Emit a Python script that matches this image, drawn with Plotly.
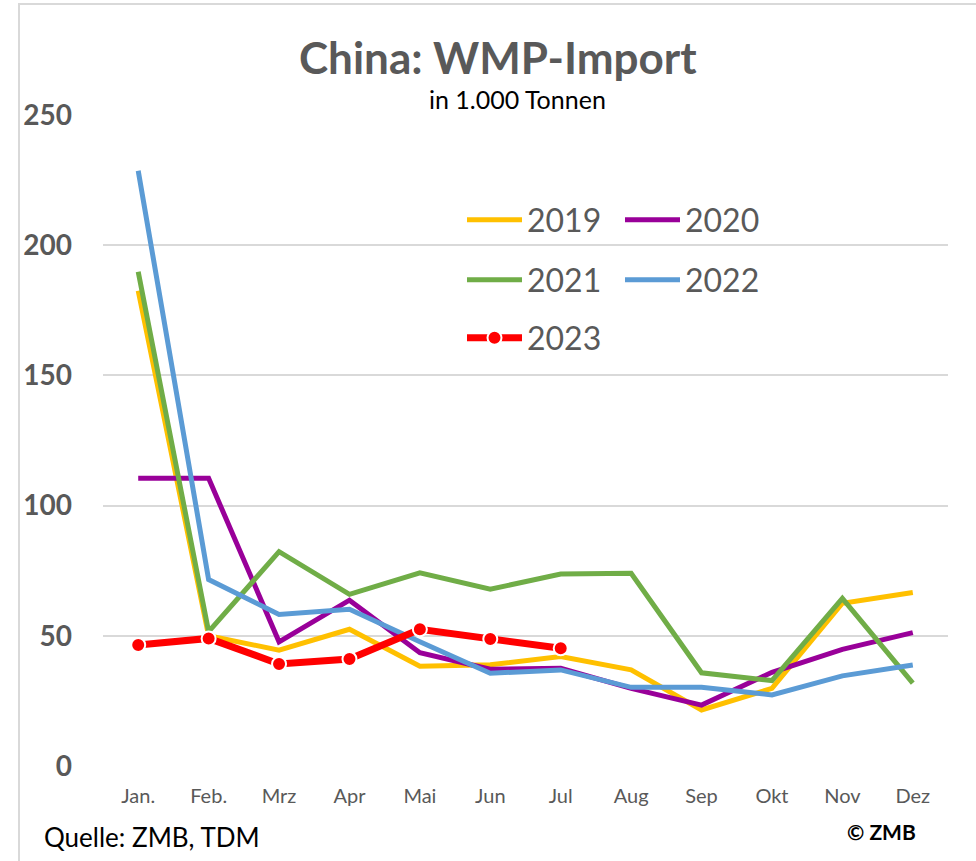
import plotly.graph_objects as go

# Monthly WMP imports of China, in 1,000 tonnes
months = ["Jan.", "Feb.", "Mrz", "Apr", "Mai", "Jun", "Jul", "Aug", "Sep", "Okt", "Nov", "Dez"]
imp_2019 = [182.5, 50.0, 44.5, 52.5, 38.3, 38.9, 42.0, 36.9, 21.5, 29.8, 62.5, 66.6]
imp_2020 = [110.5, 110.5, 47.7, 63.7, 43.5, 37.2, 37.5, 29.8, 23.4, 36.0, 44.8, 51.2]
imp_2021 = [189.8, 51.6, 82.3, 65.9, 74.2, 67.9, 73.7, 74.0, 35.8, 32.8, 64.4, 31.8]
imp_2022 = [228.6, 71.6, 58.2, 60.2, 47.7, 35.6, 36.9, 30.2, 30.2, 27.3, 34.6, 38.8]
imp_2023 = [46.5, 49.0, 39.2, 41.1, 52.5, 48.8, 45.2]

W, H = 976, 861
L, R, T, B = 103, 28, 115, 95
PW, PH = W - L - R, H - T - B


def px(x):
    return (x - L) / PW


def py(y):
    return (H - B - y) / PH


GREY = "#595959"
FONT = "Lato"

fig = go.Figure()
series = [
    ("2019", imp_2019, "#FFC000", "legend"),
    ("2020", imp_2020, "#990099", "legend"),
    ("2021", imp_2021, "#70AD47", "legend2"),
    ("2022", imp_2022, "#5B9BD5", "legend2"),
]
for name, vals, col, leg in series:
    fig.add_trace(go.Scatter(
        x=months[:len(vals)], y=vals, name=name, mode="lines",
        line=dict(color=col, width=5), legend=leg,
    ))
fig.add_trace(go.Scatter(
    x=months[:len(imp_2023)], y=imp_2023, name="2023", mode="lines+markers",
    line=dict(color="#FF0000", width=7),
    marker=dict(color="#FF0000", size=14, line=dict(color="white", width=2)),
    legend="legend3",
))

leg_common = dict(
    orientation="h", xanchor="left", yanchor="middle", bgcolor="rgba(0,0,0,0)",
    font=dict(family=FONT, size=32, color=GREY), itemwidth=55,
    entrywidth=88, entrywidthmode="pixels", tracegroupgap=0,
)

fig.update_layout(
    width=W, height=H,
    margin=dict(l=L, r=R, t=T, b=B),
    paper_bgcolor="white", plot_bgcolor="white",
    showlegend=True,
    legend=dict(x=px(462), y=py(220), **leg_common),
    legend2=dict(x=px(462), y=py(280), **leg_common),
    legend3=dict(x=px(462), y=py(338), **leg_common),
    xaxis=dict(
        type="category", range=[-0.5, 11.5], showgrid=False, zeroline=False,
        showline=False, ticks="", ticklabelstandoff=16,
        tickfont=dict(family=FONT, size=20, color=GREY),
    ),
    yaxis=dict(
        range=[0, 250], tickvals=[0, 50, 100, 150, 200, 250],
        showgrid=True, gridcolor="#D9D9D9", gridwidth=2, zeroline=False,
        showline=False, ticks="", ticklabelstandoff=30,
        tickfont=dict(family=FONT, size=28, color=GREY, weight="bold"),
    ),
    shapes=[dict(
        type="rect", xref="paper", yref="paper",
        x0=px(19), x1=px(W + 20), y0=py(H + 20), y1=py(4),
        line=dict(color="#D9D9D9", width=2), fillcolor="rgba(0,0,0,0)", layer="below",
    )],
    annotations=[
        dict(text="<b>China: WMP-Import</b>", x=px(498), y=py(57), xref="paper", yref="paper",
             showarrow=False, xanchor="center", yanchor="middle",
             font=dict(family=FONT, size=44, color=GREY)),
        dict(text="in 1.000 Tonnen", x=px(517), y=py(99), xref="paper", yref="paper",
             showarrow=False, xanchor="center", yanchor="middle",
             font=dict(family=FONT, size=25, color="black")),
        dict(text="Quelle: ZMB, TDM", x=px(42), y=py(837), xref="paper", yref="paper",
             showarrow=False, xanchor="left", yanchor="middle",
             font=dict(family=FONT, size=26, color="black")),
        dict(text="<b>© ZMB</b>", x=px(918), y=py(831), xref="paper", yref="paper",
             showarrow=False, xanchor="right", yanchor="middle",
             font=dict(family=FONT, size=21, color="black")),
    ],
)

fig.write_html("out.html")
